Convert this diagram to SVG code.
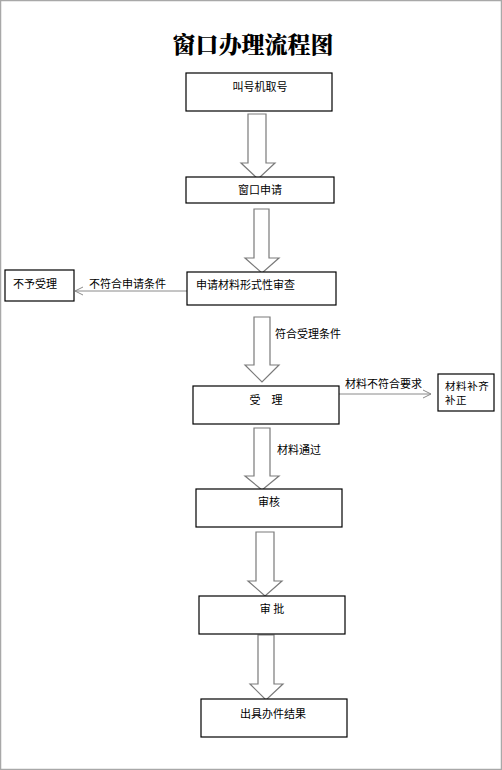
<svg xmlns="http://www.w3.org/2000/svg" width="502" height="770" viewBox="0 0 502 770">
<style>
text{font-family:"Noto Sans CJK SC","DejaVu Sans",sans-serif;font-size:11px;fill:#000}
.box{fill:#fff;stroke:#000;stroke-width:1.2}
.big{fill:#fff;stroke:#7a7a7a;stroke-width:1.2}
.ln{stroke:#8a8a8a;stroke-width:1;fill:none}
.t{text-anchor:middle;dominant-baseline:central}
.l{dominant-baseline:central}
</style>
<defs>
<marker id="oa" markerWidth="10" markerHeight="10" refX="9" refY="5" orient="auto" markerUnits="userSpaceOnUse">
<path d="M1,1 L9,5 L1,9" fill="none" stroke="#8a8a8a" stroke-width="1"/>
</marker>
</defs>
<rect x="0.5" y="0.5" width="501" height="769" fill="#fff" stroke="#a8a8a8" stroke-width="1.5"/>
<text x="253" y="43" class="t" style="font-size:23px;font-weight:900;font-family:'Noto Serif CJK SC','Noto Sans CJK SC',serif">窗口办理流程图</text>

<g id="connectors">
<path class="big" d="M248,114 H266 V163 H275 L258,179 L241,163 H248 Z"/>
<path class="big" d="M254,209 H269 V258 H279 L262,273 L245,258 H254 Z"/>
<path class="big" d="M254,317 H270 V365 H279 L262,382 L245,365 H254 Z"/>
<path class="big" d="M254,428 H270 V476 H279 L262,490 L245,476 H254 Z"/>
<path class="big" d="M256,532 H274 V581 H282 L265,596 L248,581 H256 Z"/>
<path class="big" d="M258,635 H274 V684 H283 L266,700 L250,684 H258 Z"/>
<line class="ln" x1="187" y1="291" x2="75" y2="291" marker-end="url(#oa)"/>
<line class="ln" x1="339" y1="394" x2="431" y2="394" marker-end="url(#oa)"/>
<text x="89" y="283" class="l">不符合申请条件</text>
<text x="275" y="333" class="l">符合受理条件</text>
<text x="345" y="383" class="l">材料不符合要求</text>
<text x="277" y="449" class="l">材料通过</text>
</g>

<g id="n1"><rect class="box" x="186" y="73" width="146" height="38"/><text x="260" y="86" class="t">叫号机取号</text></g>
<g id="n2"><rect class="box" x="186" y="177" width="148" height="26"/><text x="260" y="189" class="t">窗口申请</text></g>
<g id="n3"><rect class="box" x="187" y="272" width="149" height="33"/><text x="196" y="284" class="l">申请材料形式性审查</text></g>
<g id="n3b"><rect class="box" x="5" y="270" width="69" height="31"/><text x="13" y="283" class="l">不予受理</text></g>
<g id="n4"><rect class="box" x="193" y="386" width="146" height="38"/><text x="266" y="399" class="t">受　理</text></g>
<g id="n4b"><rect class="box" x="438" y="374" width="56" height="37"/><text x="445" y="390" style="font-size:10.5px;letter-spacing:0.6px"><tspan x="445" y="390">材料补齐</tspan><tspan x="445" y="404">补正</tspan></text></g>
<g id="n5"><rect class="box" x="196" y="489" width="146" height="38"/><text x="269" y="501" class="t">审核</text></g>
<g id="n6"><rect class="box" x="199" y="596" width="146" height="38"/><text x="272" y="608" class="t">审 批</text></g>
<g id="n7"><rect class="box" x="201" y="699" width="146" height="38"/><text x="273" y="713" class="t">出具办件结果</text></g>
</svg>
